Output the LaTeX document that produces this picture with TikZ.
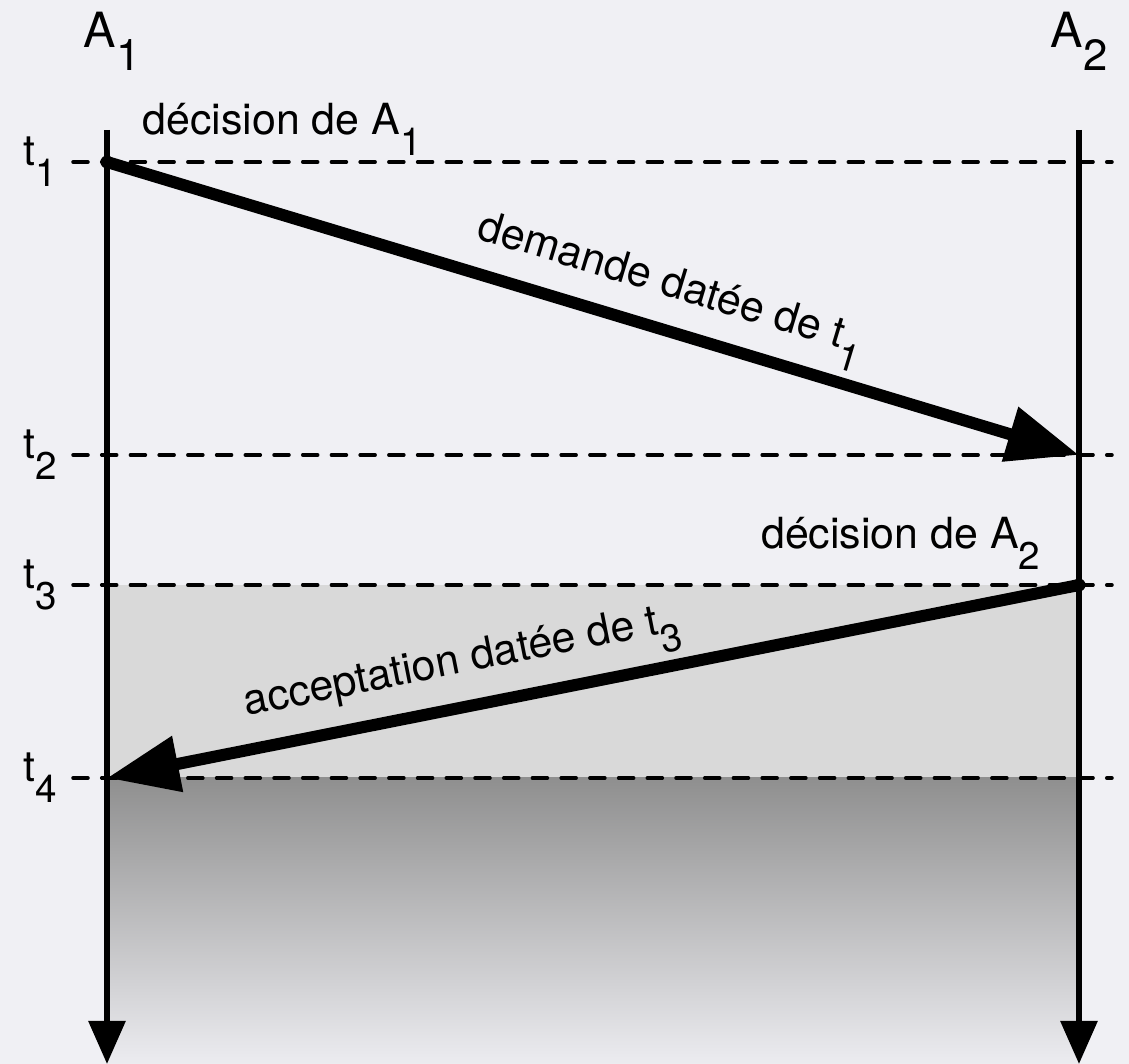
\documentclass[tikz,border=0pt]{standalone}
\usepackage{fontspec}
\setmainfont{TeX Gyre Heros}
\usetikzlibrary{arrows.meta}
\definecolor{bgpaper}{RGB}{240,240,244}
\definecolor{zonegray}{RGB}{217,217,217}
\definecolor{fadetop}{RGB}{143,143,143}
\definecolor{fadebot}{RGB}{236,236,240}
\newcommand{\ix}[1]{\raisebox{-0.47em}{\scalebox{0.9}{#1}}}

\begin{document}
\begin{tikzpicture}[
    x=0.01cm, y=-0.01cm,
    axis/.style={line width=0.06cm, -{Triangle[length=0.43cm, width=0.36cm]}},
    msg/.style={line width=0.12cm, -{Triangle[length=0.72cm, width=0.54cm]}},
    tline/.style={line width=0.035cm, dash pattern=on 0.15cm off 0.137cm, line cap=round},
    lbl/.style={inner sep=0pt, font=\fontsize{12.2}{14}\selectfont},
    big/.style={inner sep=0pt, font=\fontsize{13.8}{16}\selectfont}
]
    \fill[bgpaper] (0,0) rectangle (1129,1064);
    \useasboundingbox (0,0) rectangle (1129,1064);
    % shaded zones
    \fill[zonegray] (107,585) rectangle (1079,778);
    \shade[top color=fadetop, bottom color=fadebot] (107,778) rectangle (1079,1064);
    % time lines
    \foreach \y/\i in {162/1, 455/2, 585/3, 778/4} {
        \draw[tline] (73,\y) -- (1112,\y);
        \node[lbl, anchor=base west] (t\i) at (23,{\y+4}) {t\ix{\i}};
    }
    % processes
    \coordinate (a1top) at (107,130);
    \coordinate (a1end) at (107,1064);
    \coordinate (a2top) at (1079,130);
    \coordinate (a2end) at (1079,1064);
    \coordinate (dec1) at (107,162);
    \coordinate (rec1) at (1079,455);
    \coordinate (dec2) at (1079,585);
    \coordinate (rec2) at (107,778);
    \draw[axis] (a1top) -- (a1end);
    \draw[axis] (a2top) -- (a2end);
    % messages
    \draw[msg] (dec1) -- (rec1);
    \draw[msg] (dec2) -- (rec2);
    \fill (dec1) circle (0.065cm);
    \fill (dec2) circle (0.065cm);
    % labels
    \node[big, anchor=base west] (nameA1) at (83,48) {A\ix{1}};
    \node[big, anchor=base west] (nameA2) at (1050,48) {A\ix{2}};
    \node[lbl, anchor=base west] (decA1) at (142,135) {décision de A\ix{1}};
    \node[lbl, anchor=base east] (decA2) at (1041,549) {décision de A\ix{2}};
    \node[lbl, anchor=base west, rotate=-16.8] (reqlbl) at (475,238) {demande datée de t\ix{1}};
    \node[lbl, anchor=base west, rotate=11.2] (acclbl) at (246,716) {acceptation datée de t\ix{3}};
\end{tikzpicture}
\end{document}
